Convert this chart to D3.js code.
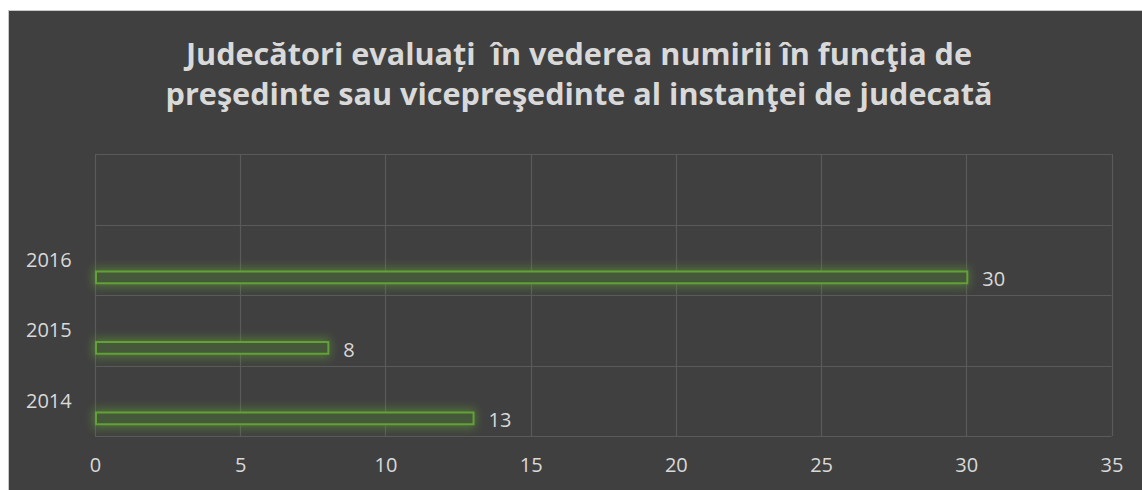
<!DOCTYPE html>
<html>
<head>
<meta charset="utf-8">
<script src="https://cdn.jsdelivr.net/npm/d3@7"></script>
<style>
  html, body { margin: 0; padding: 0; background: #ffffff; }
  svg { display: block; }
  text { font-family: "Open Sans", "Noto Sans", sans-serif; white-space: pre; }
</style>
</head>
<body>
<svg id="chart"></svg>
<script>
// data, bottom to top as in the picture
var years = ["2014", "2015", "2016"];
var counts = [13, 8, 30];
var xTicks = [0, 5, 10, 15, 20, 25, 30, 35];
var titleLines = [
  "Judecători evaluați  în vederea numirii în funcţia de",
  "preşedinte sau vicepreşedinte al instanţei de judecată"
];

var width = 1142, height = 490;
var margin = { top: 154, right: 30, bottom: 54, left: 95 };

var svg = d3.select("#chart")
  .attr("width", width)
  .attr("height", height);

var defs = svg.append("defs");
var glow = defs.append("filter")
  .attr("id", "glow")
  .attr("x", "-10%").attr("y", "-200%")
  .attr("width", "120%").attr("height", "500%");
glow.append("feGaussianBlur").attr("stdDeviation", 5);

// dark chart area
svg.append("rect")
  .attr("x", 8).attr("y", 10)
  .attr("width", width - 8).attr("height", height - 10)
  .attr("fill", "#404040");
svg.append("line")
  .attr("x1", 8).attr("x2", width)
  .attr("y1", 10.5).attr("y2", 10.5)
  .attr("stroke", "#c8c8c8");
svg.append("line")
  .attr("x1", 8.5).attr("x2", 8.5)
  .attr("y1", 10).attr("y2", height)
  .attr("stroke", "#c8c8c8");

// title
svg.append("g")
  .selectAll("text")
  .data(titleLines)
  .enter()
  .append("text")
  .attr("x", 579)
  .attr("y", function(d, i) { return 65 + i * 40; })
  .attr("text-anchor", "middle")
  .attr("font-size", 30.6)
  .attr("font-weight", "bold")
  .attr("fill", "#d9d9d9")
  .text(function(d) { return d; });

var plotW = 1111.5 - margin.left;
var plotH = 436 - margin.top;

var panel = svg.append("g")
  .attr("transform", "translate(" + margin.left + "," + margin.top + ")");

var x = d3.scaleLinear()
  .domain([0, 35])
  .range([0, plotW]);

// an empty slot on top, as in the original
var cats = years.concat([""]);
var y = d3.scaleBand()
  .domain(cats)
  .range([plotH, 0]);

// series position inside the category band
var slot = d3.scaleBand()
  .domain([0, 1, 2, 3, 4, 5])
  .range([0, y.bandwidth()])
  .paddingInner(0);

// gridlines
panel.append("g")
  .selectAll("line")
  .data(xTicks)
  .enter()
  .append("line")
  .attr("x1", function(d) { return Math.round(x(d)) + 0.5; })
  .attr("x2", function(d) { return Math.round(x(d)) + 0.5; })
  .attr("y1", 0)
  .attr("y2", plotH)
  .attr("stroke", "#5a5a5a")
  .attr("stroke-width", 1.2);

panel.append("g")
  .selectAll("line")
  .data(cats)
  .enter()
  .append("line")
  .attr("x1", 0)
  .attr("x2", plotW)
  .attr("y1", function(d) { return Math.round(y(d)) + 0.5; })
  .attr("y2", function(d) { return Math.round(y(d)) + 0.5; })
  .attr("stroke", "#5a5a5a")
  .attr("stroke-width", 1.2);

panel.append("line")
  .attr("x1", 0).attr("x2", plotW)
  .attr("y1", plotH + 0.5).attr("y2", plotH + 0.5)
  .attr("stroke", "#5a5a5a")
  .attr("stroke-width", 1.2);

// x tick labels
var xAxis = panel.append("g")
  .attr("transform", "translate(0," + plotH + ")")
  .call(d3.axisBottom(x).tickValues(xTicks).tickSize(0).tickPadding(22));
xAxis.select(".domain").remove();
xAxis.attr("font-size", null).attr("font-family", null);
xAxis.selectAll("text")
  .attr("font-size", 20)
  .attr("fill", "#d9d9d9");

// category labels
panel.append("g")
  .selectAll("text")
  .data(years)
  .enter()
  .append("text")
  .attr("x", -69)
  .attr("y", function(d) { return y(d) + y.bandwidth() / 2; })
  .attr("dy", "0.35em")
  .attr("font-size", 20)
  .attr("fill", "#d9d9d9")
  .text(function(d) { return d; });

var rows = years.map(function(d, i) { return { year: d, value: counts[i] }; });
var barY = function(d) { return y(d.year) + slot(4); };
var barH = slot.bandwidth();

// glow
panel.append("g")
  .selectAll("rect")
  .data(rows)
  .enter()
  .append("rect")
  .attr("x", x(0) - 2)
  .attr("y", function(d) { return barY(d) - 4; })
  .attr("width", function(d) { return x(d.value) - x(0) + 5; })
  .attr("height", barH + 8)
  .attr("fill", "#5f9a36")
  .attr("opacity", 0.55)
  .attr("filter", "url(#glow)");

// bars
panel.append("g")
  .selectAll("rect")
  .data(rows)
  .enter()
  .append("rect")
  .attr("x", x(0) + 1)
  .attr("y", function(d) { return barY(d); })
  .attr("width", function(d) { return x(d.value) - x(0); })
  .attr("height", barH)
  .attr("fill", "#46583a")
  .attr("stroke", "#62a136")
  .attr("stroke-width", 2);

// value labels
panel.append("g")
  .selectAll("text")
  .data(rows)
  .enter()
  .append("text")
  .attr("x", function(d) { return x(d.value) + 16; })
  .attr("y", function(d) { return barY(d) + barH / 2 + 2; })
  .attr("dy", "0.35em")
  .attr("font-size", 20)
  .attr("fill", "#d9d9d9")
  .text(function(d) { return d.value; });
</script>
</body>
</html>
